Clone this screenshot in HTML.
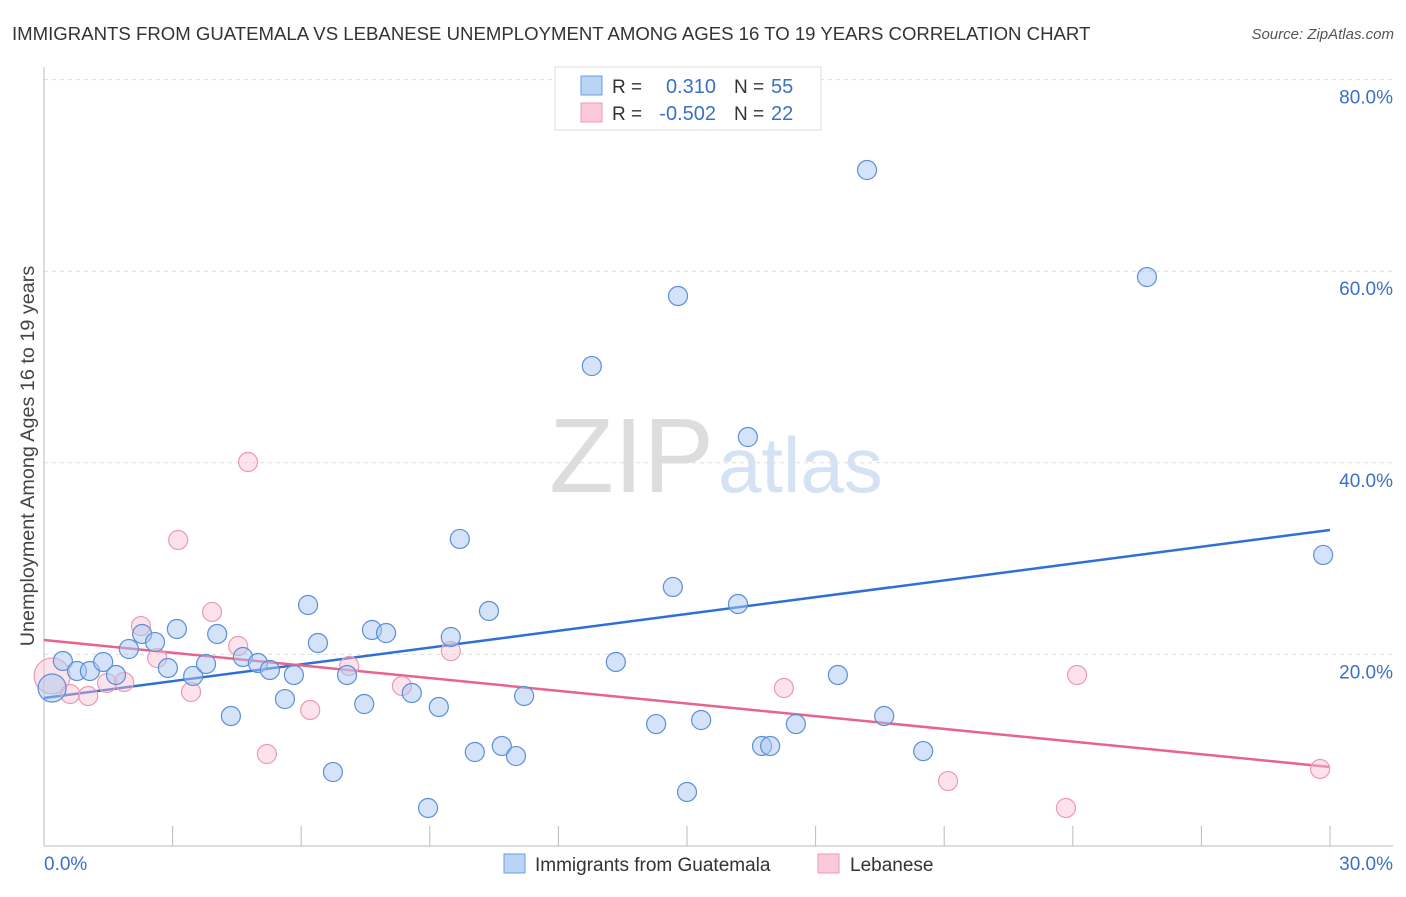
<!DOCTYPE html>
<html><head><meta charset="utf-8"><style>
body{margin:0;background:#fff;font-family:"Liberation Sans",sans-serif;}
svg text{font-family:"Liberation Sans",sans-serif;}
</style></head><body>
<svg id="c" width="1406" height="892">
<text x="12" y="40" font-size="18.6" fill="#333">IMMIGRANTS FROM GUATEMALA VS LEBANESE UNEMPLOYMENT AMONG AGES 16 TO 19 YEARS CORRELATION CHART</text>
<text x="1394" y="39" font-size="15" fill="#555" font-style="italic" text-anchor="end">Source: ZipAtlas.com</text>
<text x="714" y="492" font-size="106" fill="#ddd" text-anchor="end" font-family="Liberation Serif">ZIP</text>
<text x="718" y="492" font-size="78" fill="#d4e2f4">atlas</text>
<text transform="translate(34,456) rotate(-90)" font-size="19.8" fill="#444" text-anchor="middle">Unemployment Among Ages 16 to 19 years</text>
<g id="grid"></g><g id="ticks"></g><g id="lines"></g><g id="pts"></g>
<g>
<rect x="555" y="67" width="266" height="63" fill="#fff" stroke="#ddd"/>
<rect x="581" y="76" width="21" height="19" fill="#b9d4f5" stroke="#6a9ee0"/>
<rect x="581" y="103" width="21" height="19" fill="#fbcad8" stroke="#ec9ab4"/>
<text x="612" y="93" font-size="19" fill="#333">R =</text><text x="716" y="93" font-size="20" fill="#3a70c8" text-anchor="end">0.310</text>
<text x="734" y="93" font-size="19" fill="#333">N =</text><text x="771" y="93" font-size="20" fill="#3a70c8">55</text>
<text x="612" y="120" font-size="19" fill="#333">R =</text><text x="716" y="120" font-size="20" fill="#3a70c8" text-anchor="end">-0.502</text>
<text x="734" y="120" font-size="19" fill="#333">N =</text><text x="771" y="120" font-size="20" fill="#3a70c8">22</text>
</g>
<g>
<rect x="504" y="854" width="21" height="19" fill="#b9d4f5" stroke="#6a9ee0"/>
<text x="535" y="871" font-size="19" fill="#333">Immigrants from Guatemala</text>
<rect x="818" y="854" width="21" height="19" fill="#fbcad8" stroke="#ec9ab4"/>
<text x="850" y="871" font-size="19" fill="#333">Lebanese</text>
</g>
</svg>
<script>
const yTicks=[20,40,60,80];
const xTickLabels=["0.0%","30.0%"];
const blueX=[0.19,0.44,0.77,1.07,1.38,1.68,1.98,2.29,2.59,2.89,3.10,3.48,3.78,4.04,4.36,4.64,4.99,5.27,5.62,5.83,6.16,6.39,6.74,7.07,7.47,7.65,7.98,8.58,8.96,9.21,9.49,9.70,10.05,10.38,10.68,11.01,11.20,12.78,13.34,14.28,14.67,14.79,15.00,15.33,16.19,16.42,16.75,16.94,17.54,18.52,19.20,19.60,20.51,25.73,29.84];
const blueY=[16.49,19.31,18.27,18.27,19.21,17.85,20.56,22.13,21.29,18.58,22.65,17.75,19.00,22.13,13.57,19.73,19.10,18.37,15.34,17.85,25.16,21.19,7.72,17.85,14.82,22.55,22.23,15.97,3.97,14.51,21.82,32.05,9.81,24.53,10.44,9.39,15.66,50.10,19.21,12.73,27.04,57.41,5.64,13.15,25.26,42.69,10.44,10.44,12.73,17.85,70.56,13.57,9.91,59.39,30.38];
const pinkX=[0.19,0.61,1.03,1.47,1.87,2.26,2.64,3.13,3.43,3.92,4.53,4.76,5.20,6.21,7.12,8.35,9.49,17.26,21.09,23.84,24.10,29.77];
const pinkY=[17.75,15.87,15.66,17.01,17.12,22.96,19.62,31.94,16.08,24.43,20.88,40.08,9.60,14.20,18.79,16.70,20.35,16.49,6.78,3.97,17.85,8.04];
const blueTrend=[15.45,32.99];
const pinkTrend=[21.5,8.25];
const sx=v=>44+v*1286/30, sy=v=>846-v*9.58;
const NS="http://www.w3.org/2000/svg";
function mk(t,a,p){const e=document.createElementNS(NS,t);for(const k in a)e.setAttribute(k,a[k]);p.appendChild(e);return e;}
const G=document.getElementById('grid'),T=document.getElementById('ticks'),L=document.getElementById('lines'),P=document.getElementById('pts');
yTicks.forEach(v=>{
 const l=mk('line',{x1:44,x2:1393,y1:sy(v),y2:sy(v),stroke:'#ddd','stroke-dasharray':'4,4'},G);
 
 
 const t=mk('text',{x:1393,y:sy(v)+24,'font-size':19,fill:'#3a70c8','text-anchor':'end'},G);t.textContent=v.toFixed(1)+'%';
 
 
});
mk('line',{x1:44,x2:44,y1:67,y2:846,stroke:'#bbb'},T);
mk('line',{x1:44,x2:1393,y1:846,y2:846,stroke:'#bbb'},T);
for(let i=1;i<=10;i++){const x=sx(i*3);mk('line',{x1:x,x2:x,y1:826,y2:846,stroke:'#bbb'},T);}
const x0=mk('text',{x:44,y:870,'font-size':19,fill:'#3a70c8'},T);x0.textContent=xTickLabels[0];


const x1=mk('text',{x:1393,y:870,'font-size':19,fill:'#3a70c8','text-anchor':'end'},T);x1.textContent=xTickLabels[1];


function pts(xs,ys,fill,stroke,name){xs.forEach((v,i)=>{const r=i==0?(name=='blue-point'?14:18):9.5;
 const c=mk('circle',{cx:sx(v),cy:sy(ys[i]),r:r,fill:fill,stroke:stroke,'stroke-width':1.2},P);
 
 });}
pts(pinkX,pinkY,'rgba(248,190,208,0.45)','#ec9ab4','pink-point');
pts(blueX,blueY,'rgba(170,200,240,0.5)','#5b8fd9','blue-point');
const bl=mk('line',{x1:sx(0),y1:sy(blueTrend[0]),x2:sx(30),y2:sy(blueTrend[1]),stroke:'#2f6fd6','stroke-width':2.5},L);


const pl=mk('line',{x1:sx(0),y1:sy(pinkTrend[0]),x2:sx(30),y2:sy(pinkTrend[1]),stroke:'#e8638e','stroke-width':2.5},L);


</script>
</body></html>
